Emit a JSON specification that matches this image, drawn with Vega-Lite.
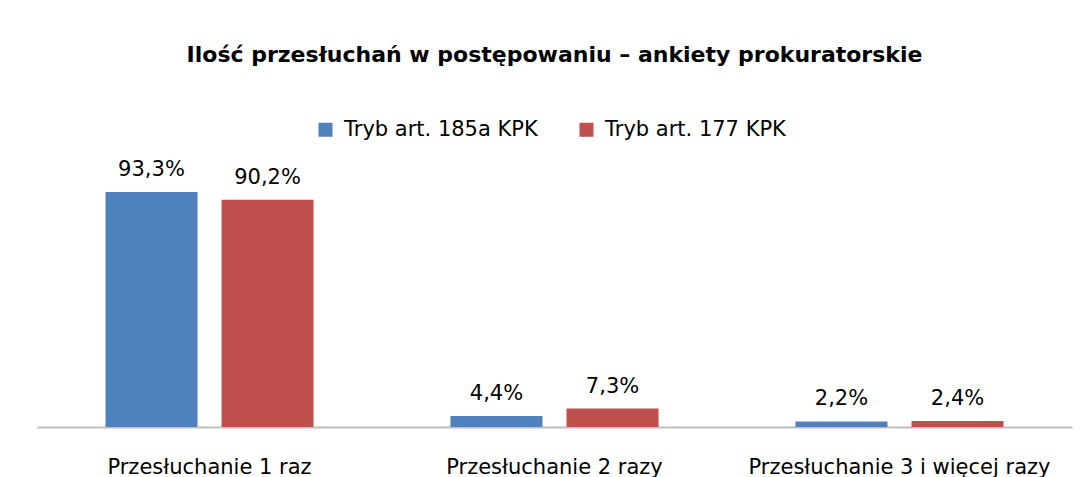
{
  "$schema": "https://vega.github.io/schema/vega-lite/v6.json",
  "width": 1035,
  "height": 252,
  "autosize": {"type": "none"},
  "padding": {"left": 37, "top": 175, "right": 13, "bottom": 50},
  "background": "#ffffff",
  "config": {
    "view": {"stroke": null},
    "font": "DejaVu Sans",
    "locale": {"number": {"decimal": ",", "thousands": " ", "grouping": [3], "currency": ["", " zł"]}}
  },
  "title": {
    "text": "Ilość przesłuchań w postępowaniu – ankiety prokuratorskie",
    "font": "DejaVu Sans",
    "fontSize": 22,
    "fontWeight": "bold",
    "color": "#000000",
    "anchor": "middle",
    "offset": 52
  },
  "data": {
    "values": [
      {"kategoria": "Przesłuchanie 1 raz", "tryb": "Tryb art. 185a KPK", "udzial": 0.933},
      {"kategoria": "Przesłuchanie 1 raz", "tryb": "Tryb art. 177 KPK", "udzial": 0.902},
      {"kategoria": "Przesłuchanie 2 razy", "tryb": "Tryb art. 185a KPK", "udzial": 0.044},
      {"kategoria": "Przesłuchanie 2 razy", "tryb": "Tryb art. 177 KPK", "udzial": 0.073},
      {"kategoria": "Przesłuchanie 3 i więcej razy", "tryb": "Tryb art. 185a KPK", "udzial": 0.022},
      {"kategoria": "Przesłuchanie 3 i więcej razy", "tryb": "Tryb art. 177 KPK", "udzial": 0.024}
    ]
  },
  "encoding": {
    "x": {
      "field": "kategoria",
      "type": "nominal",
      "sort": null,
      "scale": {"paddingInner": 0, "paddingOuter": 0},
      "axis": {
        "title": null,
        "labelAngle": 0,
        "ticks": false,
        "tickSize": 0,
        "labelPadding": 29,
        "labelLimit": 600,
        "labelFont": "DejaVu Sans",
        "labelFontSize": 21,
        "labelColor": "#000000",
        "domainColor": "#BFBFBF",
        "domainWidth": 2,
        "grid": false
      }
    },
    "xOffset": {
      "field": "tryb",
      "type": "nominal",
      "sort": null,
      "scale": {"paddingInner": 0.207, "paddingOuter": 0.59}
    },
    "y": {
      "field": "udzial",
      "type": "quantitative",
      "scale": {"domain": [0, 1]},
      "axis": null
    }
  },
  "layer": [
    {
      "mark": {"type": "bar"},
      "encoding": {
        "color": {
          "field": "tryb",
          "type": "nominal",
          "sort": null,
          "scale": {"domain": ["Tryb art. 185a KPK", "Tryb art. 177 KPK"], "range": ["#4F81BD", "#C0504D"]},
          "legend": {
            "orient": "none",
            "direction": "horizontal",
            "legendX": 278,
            "legendY": -56,
            "title": null,
            "symbolType": "square",
            "symbolSize": 196,
            "symbolStrokeWidth": 0,
            "labelFont": "DejaVu Sans",
            "labelFontSize": 21,
            "labelLimit": 600,
            "labelColor": "#000000",
            "labelOffset": 8,
            "columnPadding": 38
          }
        }
      }
    },
    {
      "mark": {"type": "text", "baseline": "alphabetic", "dy": -16, "fontSize": 21, "font": "DejaVu Sans", "color": "#000000"},
      "encoding": {
        "text": {"field": "udzial", "type": "quantitative", "format": ".1%"}
      }
    }
  ]
}
